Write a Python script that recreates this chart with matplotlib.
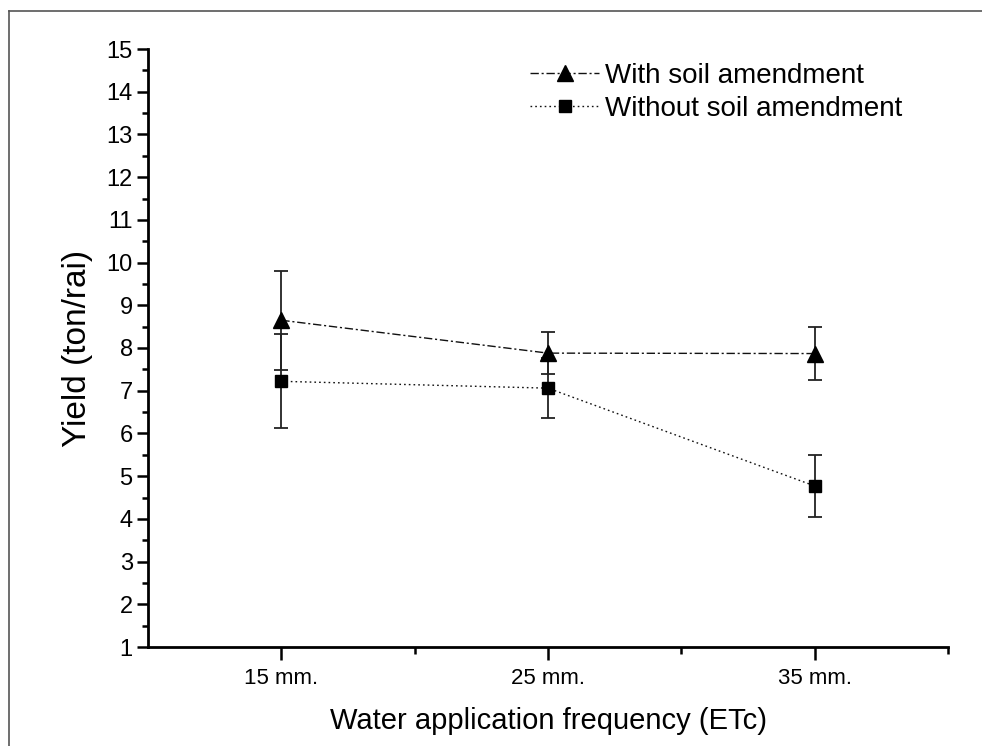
import matplotlib
matplotlib.use("Agg")
import matplotlib.pyplot as plt
from matplotlib.ticker import MultipleLocator, FixedLocator
from matplotlib.lines import Line2D

plt.rcParams['font.family'] = ['Liberation Sans', 'DejaVu Sans']

# Data
x_vals = [15, 25, 35]
x_labels = ["15 mm.", "25 mm.", "35 mm."]
with_amend = [8.65, 7.88, 7.87]
with_err = [1.16, 0.49, 0.63]
without_amend = [7.22, 7.06, 4.77]
without_err = [1.10, 0.71, 0.73]
series_names = ["With soil amendment", "Without soil amendment"]

fig = plt.figure(figsize=(9.82, 7.46), dpi=100)
ax = fig.add_axes([148/982, 1-647/746, 800/982, 598/746])

# Frame around figure (top and left)
fig.add_artist(Line2D([9/982, 1.0], [1-11/746, 1-11/746], transform=fig.transFigure,
                      color='#555555', lw=1.2))
fig.add_artist(Line2D([9/982, 9/982], [0, 1-11/746], transform=fig.transFigure,
                      color='#555555', lw=1.2))

ax.errorbar(x_vals, with_amend, yerr=with_err, fmt='none', ecolor='#222222',
            elinewidth=1.3, capsize=4.7, capthick=1.3, zorder=2)
ax.errorbar(x_vals, without_amend, yerr=without_err, fmt='none', ecolor='#222222',
            elinewidth=1.3, capsize=4.7, capthick=1.3, zorder=2)

l1, = ax.plot(x_vals, with_amend, color='#111111', lw=1.0, linestyle=(0, (6, 2, 1.5, 2)),
              marker='^', markersize=12, markerfacecolor='black', markeredgecolor='black',
              zorder=3, label=series_names[0])
l2, = ax.plot(x_vals, without_amend, color='#111111', lw=1.0, linestyle=(0, (1.2, 2.2)),
              marker='s', markersize=9, markerfacecolor='black', markeredgecolor='black',
              zorder=3, label=series_names[1])

ax.set_xlim(10, 40)
ax.set_ylim(1, 15)
ax.xaxis.set_major_locator(FixedLocator(x_vals))
ax.set_xticklabels(x_labels)
ax.xaxis.set_minor_locator(FixedLocator([20, 30, 40]))
ax.yaxis.set_major_locator(MultipleLocator(1))
ax.yaxis.set_minor_locator(MultipleLocator(0.5))

for s in ['top', 'right']:
    ax.spines[s].set_visible(False)
for s in ['left', 'bottom']:
    ax.spines[s].set_linewidth(2.0)

ax.tick_params(axis='y', which='major', direction='out', length=8, width=1.8,
               labelsize=17, pad=3)
ax.tick_params(axis='y', which='minor', direction='out', length=4, width=1.8)
ax.tick_params(axis='x', which='major', direction='out', length=9, width=1.8,
               labelsize=16, pad=6)
ax.tick_params(axis='x', which='minor', direction='out', length=5, width=1.8)

ax.set_xlabel("Water application frequency (ETc)", fontsize=21, labelpad=13)
ax.set_ylabel("Yield (ton/rai)", fontsize=24, labelpad=10)

ax.legend(handles=[l1, l2], loc='upper left', bbox_to_anchor=(0.4775, 0.977),
          frameon=False, fontsize=20, handlelength=2.5, handletextpad=0.2,
          labelspacing=0.25, borderpad=0, borderaxespad=0)

fig.savefig("out.png", dpi=100)
